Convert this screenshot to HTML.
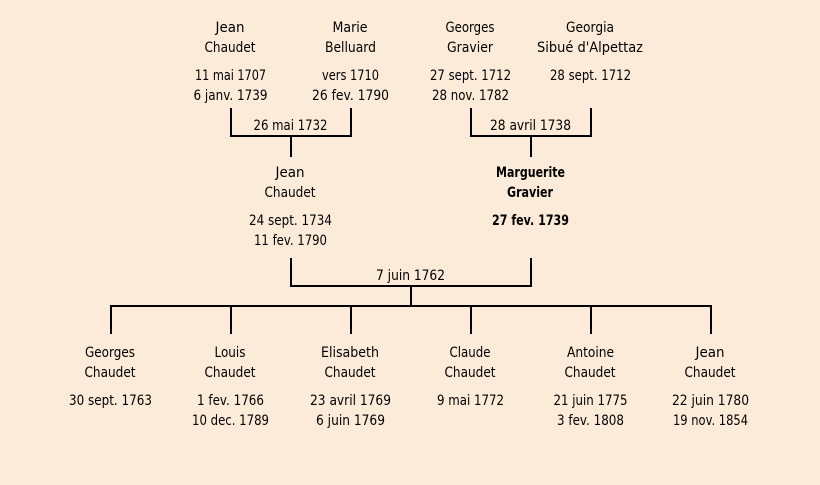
<!DOCTYPE html>
<html><head><meta charset="utf-8"><style>
html,body{margin:0;padding:0;background:#fdebd9}
svg{display:block}
text{font-family:"Comic Sans MS","DejaVu Sans",sans-serif;font-size:14px;fill:#000;text-anchor:middle}
.b{font-weight:bold}
</style></head><body>
<svg width="820" height="485" viewBox="0 0 820 485" xmlns="http://www.w3.org/2000/svg">
<rect width="820" height="485" fill="#fdebd9"/>
<g fill="none" stroke="#000" stroke-width="2">
<path d="M231 108V136H351V108M291 136V157"/>
<path d="M471 108V136H591V108M531 136V157"/>
<path d="M291 258V286H531V258M411 286V306"/>
<path d="M111 334V306H711V334M231 306V334M351 306V334M471 306V334M591 306V334"/>
</g>
<g>
<text x="230" y="32" textLength="29" lengthAdjust="spacingAndGlyphs">Jean</text>
<text x="230" y="52" textLength="51" lengthAdjust="spacingAndGlyphs">Chaudet</text>
<text x="230.5" y="80" textLength="71" lengthAdjust="spacingAndGlyphs">11 mai 1707</text>
<text x="230.5" y="100" textLength="74" lengthAdjust="spacingAndGlyphs">6 janv. 1739</text>
<text x="350" y="32" textLength="35" lengthAdjust="spacingAndGlyphs">Marie</text>
<text x="350.5" y="52" textLength="51" lengthAdjust="spacingAndGlyphs">Belluard</text>
<text x="350.5" y="80" textLength="57" lengthAdjust="spacingAndGlyphs">vers 1710</text>
<text x="350.5" y="100" textLength="77" lengthAdjust="spacingAndGlyphs">26 fev. 1790</text>
<text x="470" y="32" textLength="49" lengthAdjust="spacingAndGlyphs">Georges</text>
<text x="470" y="52" textLength="46" lengthAdjust="spacingAndGlyphs">Gravier</text>
<text x="470.5" y="80" textLength="81" lengthAdjust="spacingAndGlyphs">27 sept. 1712</text>
<text x="470.5" y="100" textLength="77" lengthAdjust="spacingAndGlyphs">28 nov. 1782</text>
<text x="590" y="32" textLength="48" lengthAdjust="spacingAndGlyphs">Georgia</text>
<text x="590" y="52" textLength="106" lengthAdjust="spacingAndGlyphs">Sibué d'Alpettaz</text>
<text x="590.5" y="80" textLength="81" lengthAdjust="spacingAndGlyphs">28 sept. 1712</text>
<text x="290.5" y="130" textLength="74" lengthAdjust="spacingAndGlyphs">26 mai 1732</text>
<text x="530.5" y="130" textLength="81" lengthAdjust="spacingAndGlyphs">28 avril 1738</text>
<text x="290" y="177" textLength="29" lengthAdjust="spacingAndGlyphs">Jean</text>
<text x="290" y="197" textLength="51" lengthAdjust="spacingAndGlyphs">Chaudet</text>
<text x="290.5" y="225" textLength="83" lengthAdjust="spacingAndGlyphs">24 sept. 1734</text>
<text x="290.5" y="245" textLength="73" lengthAdjust="spacingAndGlyphs">11 fev. 1790</text>
<text class="b" x="530.5" y="177" textLength="69" lengthAdjust="spacingAndGlyphs">Marguerite</text>
<text class="b" x="530" y="197" textLength="46" lengthAdjust="spacingAndGlyphs">Gravier</text>
<text class="b" x="530.5" y="225" textLength="77" lengthAdjust="spacingAndGlyphs">27 fev. 1739</text>
<text x="410.5" y="280" textLength="69" lengthAdjust="spacingAndGlyphs">7 juin 1762</text>
<text x="110" y="357" textLength="50" lengthAdjust="spacingAndGlyphs">Georges</text>
<text x="110" y="377" textLength="51" lengthAdjust="spacingAndGlyphs">Chaudet</text>
<text x="110.5" y="405" textLength="83" lengthAdjust="spacingAndGlyphs">30 sept. 1763</text>
<text x="230" y="357" textLength="31" lengthAdjust="spacingAndGlyphs">Louis</text>
<text x="230" y="377" textLength="51" lengthAdjust="spacingAndGlyphs">Chaudet</text>
<text x="230.5" y="405" textLength="67" lengthAdjust="spacingAndGlyphs">1 fev. 1766</text>
<text x="230.5" y="425" textLength="77" lengthAdjust="spacingAndGlyphs">10 dec. 1789</text>
<text x="350" y="357" textLength="58" lengthAdjust="spacingAndGlyphs">Elisabeth</text>
<text x="350" y="377" textLength="51" lengthAdjust="spacingAndGlyphs">Chaudet</text>
<text x="350.5" y="405" textLength="81" lengthAdjust="spacingAndGlyphs">23 avril 1769</text>
<text x="350.5" y="425" textLength="69" lengthAdjust="spacingAndGlyphs">6 juin 1769</text>
<text x="470" y="357" textLength="41" lengthAdjust="spacingAndGlyphs">Claude</text>
<text x="470" y="377" textLength="51" lengthAdjust="spacingAndGlyphs">Chaudet</text>
<text x="470.5" y="405" textLength="67" lengthAdjust="spacingAndGlyphs">9 mai 1772</text>
<text x="590.5" y="357" textLength="47" lengthAdjust="spacingAndGlyphs">Antoine</text>
<text x="590" y="377" textLength="51" lengthAdjust="spacingAndGlyphs">Chaudet</text>
<text x="590.5" y="405" textLength="74" lengthAdjust="spacingAndGlyphs">21 juin 1775</text>
<text x="590.5" y="425" textLength="67" lengthAdjust="spacingAndGlyphs">3 fev. 1808</text>
<text x="710" y="357" textLength="29" lengthAdjust="spacingAndGlyphs">Jean</text>
<text x="710" y="377" textLength="51" lengthAdjust="spacingAndGlyphs">Chaudet</text>
<text x="710.5" y="405" textLength="77" lengthAdjust="spacingAndGlyphs">22 juin 1780</text>
<text x="710.5" y="425" textLength="75" lengthAdjust="spacingAndGlyphs">19 nov. 1854</text>
</g>
</svg>
</body></html>
